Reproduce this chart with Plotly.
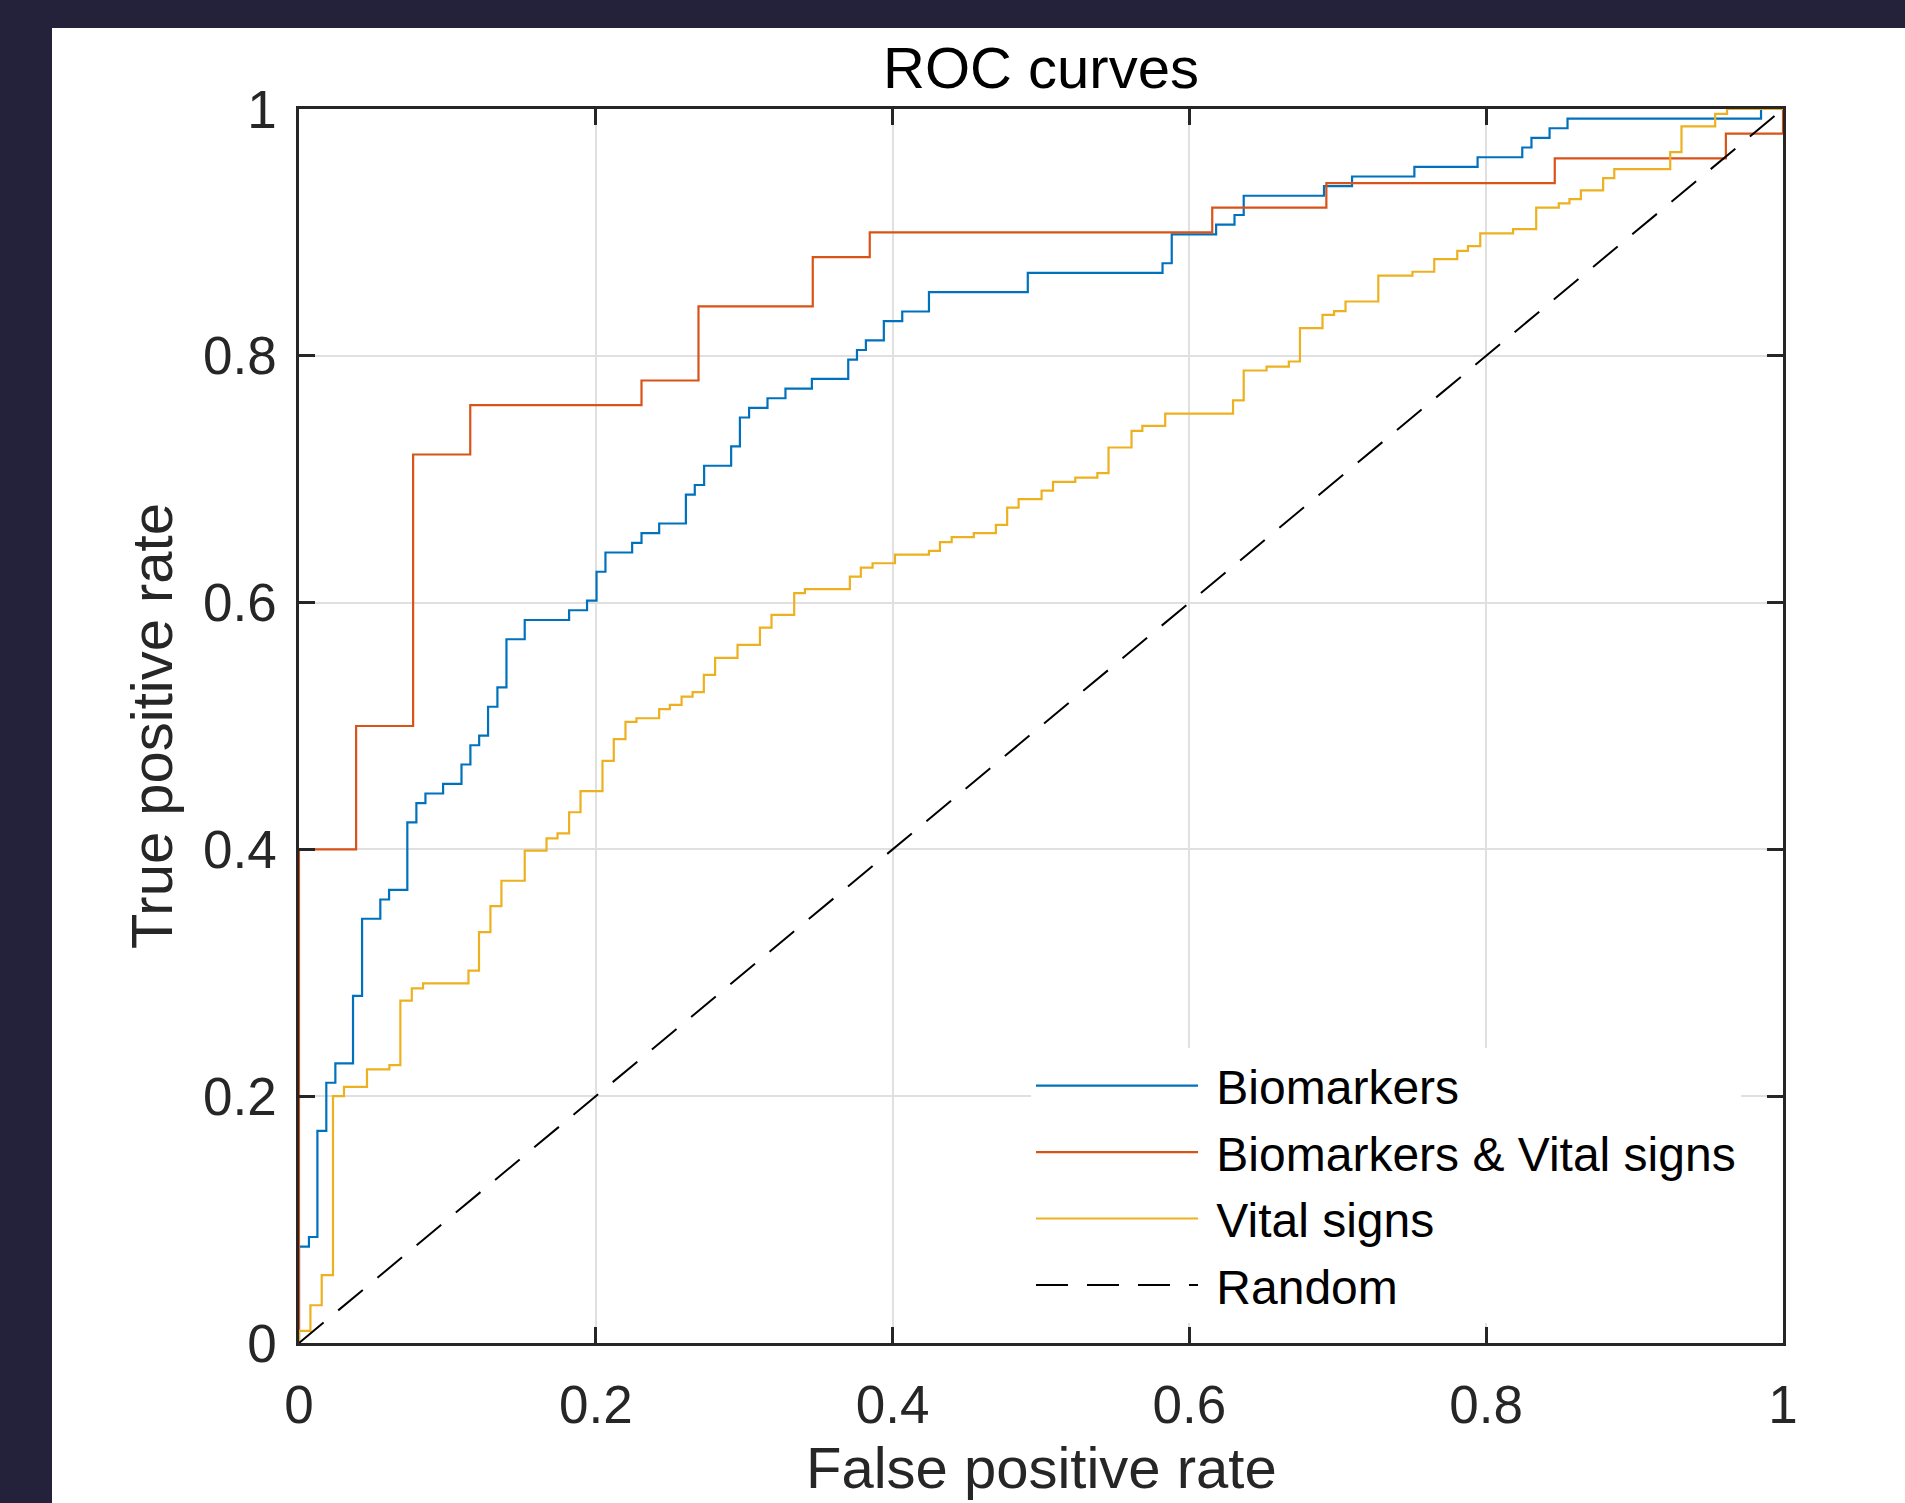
import plotly.graph_objects as go

# ---------------- data ----------------
bio_fpr = [0, 0, 0.0067, 0.0124, 0.0184, 0.0245, 0.0364, 0.0425, 0.0548, 0.0607,
           0.0730, 0.0791, 0.0852, 0.0971, 0.1095, 0.1155, 0.1214, 0.1274, 0.1337,
           0.1398, 0.1521, 0.1820, 0.1941, 0.2005, 0.2065, 0.2245, 0.2308, 0.2427,
           0.2607, 0.2667, 0.2730, 0.2912, 0.2971, 0.3033, 0.3157, 0.3278, 0.3456,
           0.3701, 0.3760, 0.3820, 0.3941, 0.4065, 0.4245, 0.4911, 0.5819, 0.5881,
           0.6180, 0.6304, 0.6366, 0.6907, 0.7096, 0.7516, 0.7942, 0.8243, 0.8305,
           0.8427, 0.8548, 0.9852, 1.0]
bio_tpr = [0, 0.0781, 0.0859, 0.1719, 0.2109, 0.2266, 0.2813, 0.3438, 0.3594, 0.3672,
           0.4219, 0.4375, 0.4453, 0.4531, 0.4688, 0.4844, 0.4922, 0.5156, 0.5313,
           0.5703, 0.5859, 0.5938, 0.6016, 0.6250, 0.6406, 0.6484, 0.6563, 0.6641,
           0.6875, 0.6953, 0.7109, 0.7266, 0.7500, 0.7578, 0.7656, 0.7734, 0.7813,
           0.7969, 0.8047, 0.8125, 0.8281, 0.8359, 0.8516, 0.8672, 0.8750, 0.8984,
           0.9063, 0.9141, 0.9297, 0.9375, 0.9453, 0.9531, 0.9609, 0.9688, 0.9766,
           0.9844, 0.9922, 1.0, 1.0]

both_fpr = [0, 0, 0.0385, 0.0769, 0.1154, 0.2308, 0.2692, 0.3462, 0.3846, 0.6154,
            0.6923, 0.8462, 0.9615, 1.0]
both_tpr = [0, 0.40, 0.50, 0.72, 0.76, 0.78, 0.84, 0.88, 0.90, 0.92,
            0.94, 0.96, 0.98, 1.0]

vital_fpr = [0, 0, 0.0077, 0.0153, 0.0229, 0.0303, 0.0458, 0.0609, 0.0683, 0.0760,
             0.0836, 0.1142, 0.1213, 0.1290, 0.1364, 0.1521, 0.1668, 0.1742, 0.1820,
             0.1897, 0.2045, 0.2121, 0.2200, 0.2274, 0.2427, 0.2499, 0.2578, 0.2652,
             0.2728, 0.2804, 0.2955, 0.3106, 0.3184, 0.3337, 0.3409, 0.3712, 0.3786,
             0.3865, 0.4016, 0.4245, 0.4319, 0.4398, 0.4547, 0.4696, 0.4772, 0.4849,
             0.5004, 0.5081, 0.5231, 0.5380, 0.5455, 0.5610, 0.5683, 0.5837, 0.6294,
             0.6366, 0.6520, 0.6670, 0.6745, 0.6897, 0.6975, 0.7052, 0.7273, 0.7503,
             0.7650, 0.7805, 0.7877, 0.7960, 0.8181, 0.8337, 0.8489, 0.8561, 0.8638,
             0.8788, 0.8863, 0.9240, 0.9316, 0.9543, 0.9623, 1.0]
vital_tpr = [0, 0.0098, 0.0306, 0.0550, 0.2001, 0.2076, 0.2217, 0.2252, 0.2774, 0.2874,
             0.2914, 0.3017, 0.3330, 0.3541, 0.3746, 0.3990, 0.4090, 0.4130, 0.4301,
             0.4473, 0.4717, 0.4893, 0.5033, 0.5063, 0.5136, 0.5171, 0.5238, 0.5274,
             0.5414, 0.5552, 0.5657, 0.5797, 0.5900, 0.6076, 0.6109, 0.6211, 0.6284,
             0.6319, 0.6389, 0.6419, 0.6490, 0.6530, 0.6563, 0.6630, 0.6770, 0.6838,
             0.6908, 0.6978, 0.7013, 0.7049, 0.7257, 0.7392, 0.7432, 0.7532, 0.7638,
             0.7881, 0.7913, 0.7954, 0.8224, 0.8332, 0.8362, 0.8440, 0.8649, 0.8681,
             0.8784, 0.8851, 0.8889, 0.8992, 0.9027, 0.9200, 0.9235, 0.9270, 0.9340,
             0.9440, 0.9513, 0.9651, 0.9859, 0.9961, 1.0, 1.0]

random_fpr = [0, 1]
random_tpr = [0, 1]

series_names = ["Biomarkers", "Biomarkers & Vital signs", "Vital signs", "Random"]
tick_vals = [0, 0.2, 0.4, 0.6, 0.8, 1]
tick_text = ["0", "0.2", "0.4", "0.6", "0.8", "1"]
x_title = "False positive rate"
y_title = "True positive rate"
chart_title = "ROC curves"

# ---------------- styling ----------------
FONT = "Liberation Sans, Arial, Helvetica, sans-serif"
AX = "#262626"
DARK = "#24213a"
W, H = 1905, 1503
L, R, T, B = 299, 122, 109, 160
PW, PH = W - L - R, H - T - B
GAP = "\u00a0"  # small gap between legend sample line and its label

fig = go.Figure()
fig.add_trace(go.Scatter(x=bio_fpr, y=bio_tpr, mode="lines", name=GAP + series_names[0],
                         line=dict(color="#0072BD", width=2.2, shape="hv"), legendgroup="a"))
fig.add_trace(go.Scatter(x=both_fpr, y=both_tpr, mode="lines", name=GAP + series_names[1],
                         line=dict(color="#D95319", width=2.2, shape="hv"), legendgroup="b"))
fig.add_trace(go.Scatter(x=vital_fpr, y=vital_tpr, mode="lines", name=GAP + series_names[2],
                         line=dict(color="#EDB120", width=2.2, shape="hv"), legendgroup="c"))
fig.add_trace(go.Scatter(x=random_fpr, y=random_tpr, mode="lines", name=GAP + series_names[3],
                         line=dict(color="black", width=2, dash="32px,19px"), legendgroup="d"))

axis_common = dict(
    range=[0, 1], tickvals=tick_vals, ticktext=tick_text,
    showline=True, linecolor=AX, linewidth=2.5, mirror="ticks",
    ticks="inside", ticklen=16, tickwidth=2.5, tickcolor=AX,
    showgrid=True, gridcolor="#e0e0e0", gridwidth=2, zeroline=False,
    tickfont=dict(family=FONT, size=53, color=AX),
    fixedrange=True, automargin=False,
)

fig.update_layout(
    width=W, height=H, autosize=False,
    margin=dict(l=L, r=R, t=T, b=B, pad=0, autoexpand=False),
    paper_bgcolor=DARK, plot_bgcolor="white",
    title=dict(text=chart_title, x=0.5, xref="paper", xanchor="center",
               y=1 - 67.5 / H, yref="container", yanchor="middle",
               font=dict(family=FONT, size=58, color="black"), automargin=False),
    xaxis=dict(axis_common, ticklabelstandoff=14),
    yaxis=dict(axis_common, ticklabelstandoff=9,
               title=dict(text=y_title, standoff=12,
                          font=dict(family=FONT, size=58, color=AX))),
    legend=dict(x=(1031 - L) / PW, y=(H - B - 1048) / PH, xanchor="left", yanchor="top",
                bgcolor="white", borderwidth=0, itemwidth=162,
                font=dict(family=FONT, size=48, color="black"),
                tracegroupgap=1),
    showlegend=True,
)

# x-axis title, placed as low as possible while staying fully on the page
fig.add_annotation(text=x_title, xref="paper", yref="paper", x=0.5,
                   y=(H - B - 1467) / PH, xanchor="center", yanchor="middle",
                   showarrow=False, font=dict(family=FONT, size=58, color=AX))

# white panel behind the figure (dark frame on left/top)
fig.add_shape(type="rect", xref="paper", yref="paper",
              x0=(52 - L) / PW, x1=1.3,
              y0=-0.3, y1=(H - B - 28) / PH,
              fillcolor="white", line=dict(width=0), layer="below")

fig.write_html(
    "out.html",
    config={"displayModeBar": False, "staticPlot": False},
    post_script="document.body.style.margin='0px';"
                "document.body.style.backgroundColor='" + DARK + "';",
)
